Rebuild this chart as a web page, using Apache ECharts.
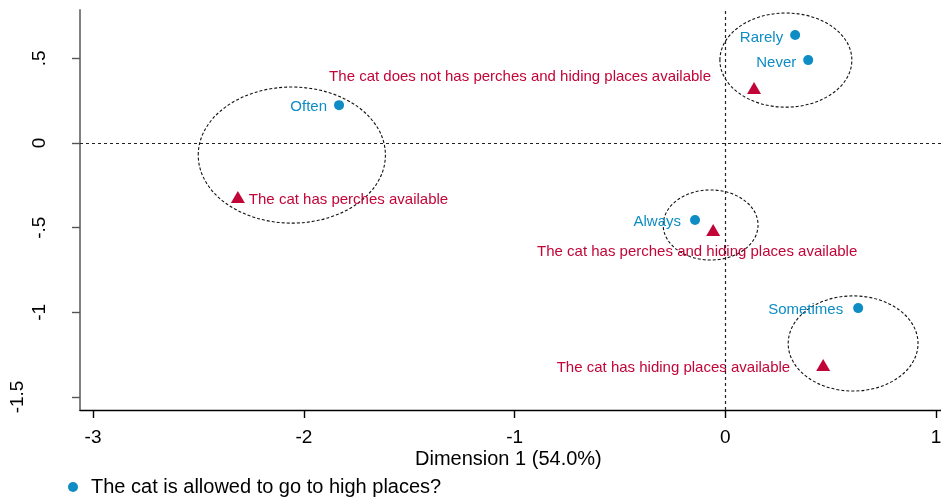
<!DOCTYPE html>
<html>
<head>
<meta charset="utf-8">
<script src="https://cdn.jsdelivr.net/npm/echarts@6/dist/echarts.min.js"></script>
<style>
  html, body { margin: 0; padding: 0; background: #fff; overflow: hidden; }
  #chart { width: 941px; height: 497px; }
</style>
</head>
<body>
<div id="chart"></div>
<script>
// Row categories: how often the cat is allowed to go to high places (dimension 1, dimension 2)
const rowNames = ['Rarely', 'Never', 'Often', 'Always', 'Sometimes'];
const rowDim1 = [0.331, 0.393, -1.833, -0.144, 0.630];
const rowDim2 = [0.638, 0.490, 0.224, -0.455, -0.975];

// Column categories: perches / hiding places available
const colNames = [
  'The cat does not has perches and hiding places available',
  'The cat has perches available',
  'The cat has perches and hiding places available',
  'The cat has hiding places available'
];
const colDim1 = [0.136, -2.313, -0.058, 0.464];
const colDim2 = [0.325, -0.319, -0.514, -1.311];

// Grouping ellipses: centre (dim1, dim2) and semi-axes (dim1, dim2)
const ellCx = [0.287, -2.057, -0.070, 0.606];
const ellCy = [0.490, -0.071, -0.484, -1.184];
const ellRx = [0.313, 0.444, 0.225, 0.308];
const ellRy = [0.278, 0.402, 0.207, 0.281];

// Axis ticks
const xTicks = [-3, -2, -1, 0, 1];
const yTicks = [-1.5, -1, -0.5, 0, 0.5];

const xTitle = 'Dimension 1 (54.0%)';
const rowSeriesName = 'The cat is allowed to go to high places?';
const colSeriesName = 'Perches and hiding places';

const BLUE = '#0e8cc4';
const RED = '#c20538';
const FONT = '"Liberation Sans", Arial, Helvetica, sans-serif';

// Stata-style tick labels: ".5", "-.5", "-1.5"
function stataNum(v) {
  let s = String(v);
  s = s.replace(/^0\./, '.').replace(/^-0\./, '-.');
  return s;
}

// Label placement for each row point (all to the left of the marker)
const rowLabelPlace = [
  { position: 'left', distance: 7, offset: [0, 3] },
  { position: 'left', distance: 7, offset: [0, 3] },
  { position: 'left', distance: 7, offset: [0, 2] },
  { position: 'left', distance: 9, offset: [0, 2] },
  { position: 'left', distance: 10, offset: [0, 2] }
];
// Label placement for each column point
const colLabelPlace = [
  { position: 'left', distance: 36, offset: [0, -11] },
  { position: 'right', distance: 4, offset: [0, 3] },
  { position: 'inside', offset: [-16, 22] },
  { position: 'left', distance: 26, offset: [0, 3] }
];

const rowData = rowNames.map((n, i) => ({
  name: n,
  value: [rowDim1[i], rowDim2[i]],
  label: rowLabelPlace[i]
}));
const colData = colNames.map((n, i) => ({
  name: n,
  value: [colDim1[i], colDim2[i]],
  label: colLabelPlace[i]
}));
const ellData = ellCx.map((c, i) => [c, ellCy[i], ellRx[i], ellRy[i]]);

const chart = echarts.init(document.getElementById('chart'), null, {
  renderer: 'canvas', width: 941, height: 497
});

chart.setOption({
  animation: false,
  backgroundColor: '#ffffff',
  textStyle: { fontFamily: FONT },
  grid: {
    left: 80, top: 10, width: 861, height: 400,
    containLabel: false,
    outerBoundsMode: 'none'
  },
  xAxis: {
    type: 'value',
    min: -3.062,
    max: 1.023,
    axisLine: { show: true, onZero: false, lineStyle: { color: '#000', width: 1.4 } },
    axisTick: { show: true, length: 8, customValues: xTicks, lineStyle: { color: '#000', width: 1.4 } },
    axisLabel: {
      customValues: xTicks,
      margin: 18,
      color: '#000',
      fontSize: 19,
      fontFamily: FONT,
      formatter: v => stataNum(v)
    },
    splitLine: { show: false }
  },
  yAxis: {
    type: 'value',
    min: -1.577,
    max: 0.786,
    axisLine: { show: true, onZero: false, lineStyle: { color: '#808080', width: 2 } },
    axisTick: { show: true, length: 8, customValues: yTicks, lineStyle: { color: '#555', width: 1.4 } },
    axisLabel: {
      customValues: yTicks,
      rotate: 90,
      margin: 31,
      color: '#000',
      fontSize: 19,
      fontFamily: FONT,
      // the lowest label sits further out from the axis
      formatter: v => (v === -1.5 ? '{far|' + stataNum(v) + '}' : stataNum(v)),
      rich: {
        far: { fontSize: 19, fontFamily: FONT, color: '#000', padding: [0, 0, 22, 0] }
      }
    },
    splitLine: { show: false }
  },
  legend: {
    data: [{ name: rowSeriesName, icon: 'circle' }],
    orient: 'vertical',
    left: 63,
    top: 472,
    itemWidth: 26,
    itemHeight: 10,
    textStyle: { color: '#000', fontSize: 20, fontFamily: FONT }
  },
  graphic: [{
    type: 'text',
    left: 415,
    top: 449,
    style: { text: xTitle, fill: '#000', font: '20px ' + FONT }
  }],
  series: [
    {
      name: 'ellipses',
      type: 'custom',
      silent: true,
      clip: false,
      z: 1,
      data: ellData,
      renderItem: function (params, api) {
        const c = api.coord([api.value(0), api.value(1)]);
        const s = api.size([api.value(2), api.value(3)]);
        return {
          type: 'ellipse',
          shape: { cx: c[0], cy: c[1], rx: s[0], ry: s[1] },
          style: { fill: 'none', stroke: '#111', lineWidth: 1.1, lineDash: [3, 2] }
        };
      }
    },
    {
      name: 'reference',
      type: 'line',
      data: [],
      silent: true,
      markLine: {
        silent: true,
        symbol: 'none',
        label: { show: false },
        lineStyle: { color: '#222', width: 1.2, type: [3, 3] },
        data: [{ xAxis: 0 }, { yAxis: 0 }]
      }
    },
    {
      name: rowSeriesName,
      type: 'scatter',
      symbol: 'circle',
      symbolSize: 10,
      z: 3,
      itemStyle: { color: BLUE, opacity: 1 },
      label: {
        show: true,
        formatter: p => p.name,
        color: BLUE,
        fontSize: 15,
        fontFamily: FONT
      },
      data: rowData
    },
    {
      name: colSeriesName,
      type: 'scatter',
      symbol: 'triangle',
      symbolSize: [14, 12],
      z: 3,
      itemStyle: { color: RED, opacity: 1 },
      label: {
        show: true,
        formatter: p => p.name,
        color: RED,
        fontSize: 15,
        fontFamily: FONT
      },
      data: colData
    }
  ]
});
</script>
</body>
</html>
